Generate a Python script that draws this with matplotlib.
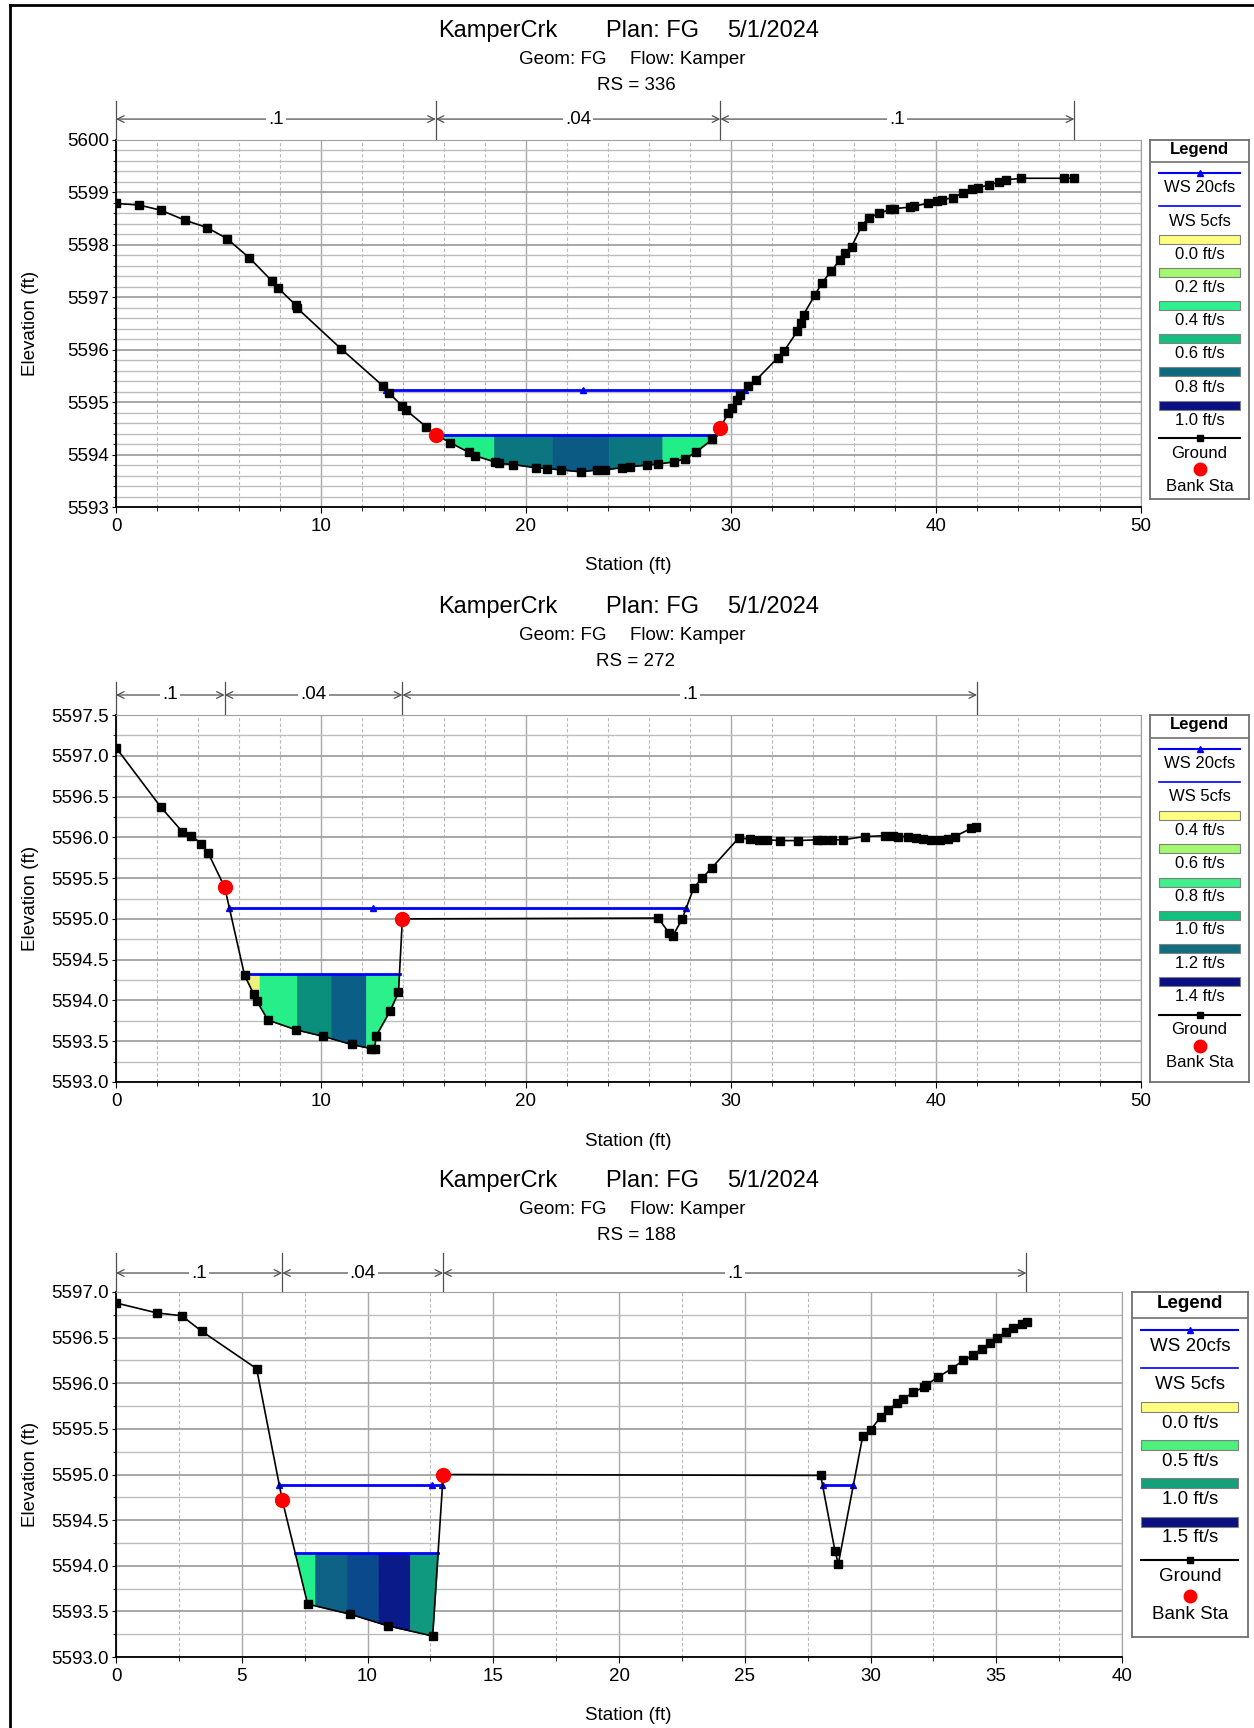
import numpy as np
import matplotlib
matplotlib.use('Agg')
import matplotlib.pyplot as plt
import matplotlib.transforms as mtransforms
from matplotlib.lines import Line2D
from matplotlib.patches import Rectangle
from matplotlib.ticker import MultipleLocator, FormatStrFormatter

plt.rcParams['font.family'] = ['Liberation Sans', 'DejaVu Sans']

W, H = 1254, 1728

# ---------------- RS = 336 ----------------
sta_336 = [0, 1.12, 2.2, 3.36, 4.44, 5.41, 6.51, 7.61, 7.9, 8.77, 8.82, 10.97, 13.02, 13.32,
           13.96, 14.14, 15.13, 15.6, 16.29, 17.22, 17.5, 18.47, 18.7, 19.37, 20.48, 21.04,
           21.7, 22.69, 23.47, 23.84, 24.68, 25.06, 25.9, 26.45, 27.2, 27.76, 28.3, 29.09,
           29.48, 29.86, 30.03, 30.31, 30.44, 30.84, 31.22, 32.27, 32.58, 33.23, 33.4, 33.54,
           34.1, 34.45, 34.89, 35.32, 35.58, 35.88, 36.37, 36.72, 37.24, 37.77, 37.94, 38.73,
           38.94, 39.6, 40.03, 40.3, 40.82, 41.31, 41.78, 42.04, 42.57, 43.06, 43.4, 44.17,
           46.23, 46.75]
elev_336 = [5598.79, 5598.76, 5598.66, 5598.47, 5598.33, 5598.12, 5597.75, 5597.31, 5597.18,
            5596.85, 5596.80, 5596.02, 5595.31, 5595.17, 5594.93, 5594.85, 5594.53, 5594.38,
            5594.23, 5594.04, 5593.98, 5593.86, 5593.83, 5593.81, 5593.75, 5593.73, 5593.71,
            5593.67, 5593.71, 5593.71, 5593.75, 5593.77, 5593.80, 5593.82, 5593.86, 5593.92,
            5594.05, 5594.29, 5594.51, 5594.79, 5594.88, 5595.05, 5595.14, 5595.30, 5595.42,
            5595.84, 5595.97, 5596.35, 5596.51, 5596.67, 5597.05, 5597.28, 5597.50, 5597.72,
            5597.85, 5597.96, 5598.36, 5598.52, 5598.60, 5598.68, 5598.69, 5598.72, 5598.74,
            5598.79, 5598.84, 5598.86, 5598.90, 5598.99, 5599.06, 5599.09, 5599.14, 5599.20,
            5599.24, 5599.27, 5599.27, 5599.27]
bank_336 = [15.6, 29.48]
ws20_336 = 5595.23
ws20_seg_336 = [(13.19, 30.66)]
ws20_mark_336 = [13.19, 22.8, 30.66]
ws5_336 = 5594.38
ws5_seg_336 = [(15.6, 29.25)]
cells_336 = [15.6, 18.43, 21.29, 24.03, 26.65, 29.25]
cellcol_336 = ['#22ee88', '#0b7580', '#0b5a84', '#0b7580', '#22ee88']
n_sta_336 = [0, 15.6, 29.48, 46.75]
n_val_336 = ['.1', '.04', '.1']
vel_lab_336 = ['0.0 ft/s', '0.2 ft/s', '0.4 ft/s', '0.6 ft/s', '0.8 ft/s', '1.0 ft/s']
vel_col_336 = ['#ffff80', '#a4f870', '#2ef08c', '#14c080', '#0e6b7e', '#0a1080']

# ---------------- RS = 272 ----------------
sta_272 = [0, 2.19, 3.23, 3.68, 4.17, 4.49, 5.30, 6.27, 6.71, 6.87, 7.41, 8.78, 10.11, 11.49,
           12.45, 12.62, 12.68, 13.37, 13.78, 13.97, 26.45, 26.97, 27.16, 27.62, 28.18, 28.59,
           29.08, 30.37, 30.94, 31.35, 31.75, 32.4, 33.29, 34.18, 34.51, 34.91, 35.48, 36.53,
           37.5, 37.91, 38.15, 38.64, 39.04, 39.37, 39.77, 40.18, 40.58, 40.91, 41.72, 41.96]
elev_272 = [5597.10, 5596.37, 5596.07, 5596.02, 5595.92, 5595.81, 5595.39, 5594.31, 5594.08,
            5593.99, 5593.76, 5593.64, 5593.56, 5593.46, 5593.41, 5593.40, 5593.56, 5593.87,
            5594.10, 5595.00, 5595.01, 5594.83, 5594.79, 5595.00, 5595.38, 5595.50, 5595.63,
            5595.99, 5595.98, 5595.97, 5595.97, 5595.96, 5595.96, 5595.97, 5595.97, 5595.97,
            5595.97, 5596.01, 5596.02, 5596.02, 5596.01, 5596.01, 5595.99, 5595.98, 5595.97,
            5595.97, 5595.98, 5596.01, 5596.11, 5596.13]
bank_272 = [5.30, 13.97]
ws20_272 = 5595.13
ws20_seg_272 = [(5.53, 27.81)]
ws20_mark_272 = [5.53, 12.55, 27.81]
ws5_272 = 5594.32
ws5_seg_272 = [(6.27, 13.83)]
cells_272 = [6.27, 7.0, 8.82, 10.49, 12.19, 13.83]
cellcol_272 = ['#eef27a', '#28ee8a', '#0b8f7d', '#0b5f86', '#2cf08a']
n_sta_272 = [0, 5.30, 13.97, 42.0]
n_val_272 = ['.1', '.04', '.1']
vel_lab_272 = ['0.4 ft/s', '0.6 ft/s', '0.8 ft/s', '1.0 ft/s', '1.2 ft/s', '1.4 ft/s']
vel_col_272 = ['#ffff80', '#a4f870', '#3ef08a', '#14c080', '#106e80', '#0a1080']

# ---------------- RS = 188 ----------------
sta_188 = [0, 1.64, 2.61, 3.41, 5.59, 6.61, 7.62, 9.30, 10.83, 12.59, 13.01, 28.02, 28.59,
           28.72, 29.69, 30.01, 30.40, 30.71, 31.04, 31.31, 31.70, 32.13, 32.21, 32.70, 33.23,
           33.69, 34.09, 34.42, 34.75, 35.02, 35.39, 35.68, 36.01, 36.21]
elev_188 = [5596.88, 5596.77, 5596.74, 5596.57, 5596.16, 5594.72, 5593.58, 5593.47, 5593.34,
            5593.23, 5595.00, 5594.99, 5594.16, 5594.02, 5595.42, 5595.49, 5595.63, 5595.71,
            5595.78, 5595.83, 5595.90, 5595.96, 5595.98, 5596.07, 5596.16, 5596.25, 5596.31,
            5596.38, 5596.44, 5596.50, 5596.56, 5596.61, 5596.65, 5596.67]
bank_188 = [6.61, 13.01]
ws20_188 = 5594.88
ws20_seg_188 = [(6.50, 12.98), (28.10, 29.32)]
ws20_mark_188 = [6.50, 12.55, 12.98, 28.10, 29.32]
ws5_188 = 5594.14
ws5_seg_188 = [(7.12, 12.81)]
cells_188 = [7.12, 7.91, 9.17, 10.43, 11.69, 12.81]
cellcol_188 = ['#22f08a', '#0d6286', '#0a4a8c', '#0a1a88', '#0f9a80']
n_sta_188 = [0, 6.61, 13.01, 36.2]
n_val_188 = ['.1', '.04', '.1']
vel_lab_188 = ['0.0 ft/s', '0.5 ft/s', '1.0 ft/s', '1.5 ft/s']
vel_col_188 = ['#ffff80', '#4cf07a', '#14a07a', '#0a1080']

fig = plt.figure(figsize=(W / 100, H / 100), dpi=100)
fig.patch.set_facecolor('white')


def px_axes(x0, y0, x1, y1):
    return fig.add_axes([x0 / W, 1 - y1 / H, (x1 - x0) / W, (y1 - y0) / H])


def ftext(x, y, s, **kw):
    fig.text(x / W, 1 - y / H, s, **kw)


def panel(rect, sta, elev, bank, ws20, ws20_seg, ws20_mark, ws5, ws5_seg, cells, cellcol,
          n_sta, n_val, xlim, ylim, xmaj, xmin, ymaj, ymin, yfmt, n_y, n_top, rs, ty):
    ax = px_axes(*rect)
    sta = np.asarray(sta, float)
    elev = np.asarray(elev, float)
    ax.set_xlim(*xlim)
    ax.set_ylim(*ylim)
    ax.xaxis.set_major_locator(MultipleLocator(xmaj))
    ax.xaxis.set_minor_locator(MultipleLocator(xmin))
    ax.yaxis.set_major_locator(MultipleLocator(ymaj))
    ax.yaxis.set_minor_locator(MultipleLocator(ymin))
    ax.xaxis.set_major_formatter(FormatStrFormatter('%d'))
    ax.yaxis.set_major_formatter(FormatStrFormatter(yfmt))
    ax.set_axisbelow(True)
    ax.xaxis.grid(True, which='major', color='#a8a8a8', lw=1.0)
    ax.xaxis.grid(True, which='minor', color='#b8b8b8', lw=0.8, ls=(0, (3, 2)))
    ax.yaxis.grid(True, which='major', color='#a0a0a0', lw=1.3)
    ax.yaxis.grid(True, which='minor', color='#bdbdbd', lw=1.0)
    ax.tick_params(axis='both', labelsize=13.5)
    ax.tick_params(axis='x', which='major', length=4, pad=4)
    ax.tick_params(axis='x', which='minor', length=3)
    ax.tick_params(axis='y', which='major', length=3, pad=2)
    ax.tick_params(axis='y', which='minor', length=2)
    for s in ['top', 'right']:
        ax.spines[s].set_color('#a0a0a0')
    for s in ['left', 'bottom']:
        ax.spines[s].set_color('black')
        ax.spines[s].set_linewidth(1.3)

    # velocity cells of the 5cfs water surface
    for a, b, c in zip(cells[:-1], cells[1:], cellcol):
        inner = sta[(sta > a) & (sta < b)]
        xs = np.concatenate([[a], inner, [b]])
        gs = np.interp(xs, sta, elev)
        ax.fill_between(xs, np.minimum(gs, ws5), ws5, facecolor=c, edgecolor=c, lw=0.4, zorder=2)

    for x0, x1 in ws5_seg:
        ax.plot([x0, x1], [ws5, ws5], color='#0000ff', lw=2, zorder=3)
    for x0, x1 in ws20_seg:
        ax.plot([x0, x1], [ws20, ws20], color='#0000ff', lw=2, zorder=3)
    ax.plot(ws20_mark, [ws20] * len(ws20_mark), '^', color='#0000ff', ms=5, zorder=3)

    ax.plot(sta, elev, color='black', lw=1.2, marker='s', ms=6, zorder=5)
    ax.plot(bank, np.interp(bank, sta, elev), 'o', color='#ff0000', ms=10, mec='#ff0000',
            zorder=6)

    # Manning's n annotation above the plot
    tr = mtransforms.blended_transform_factory(ax.transData, ax.transAxes)
    for s in n_sta:
        ax.plot([s, s], [1.0, n_top], color='#505050', lw=0.9, transform=tr, clip_on=False)
    for a, b, v in zip(n_sta[:-1], n_sta[1:], n_val):
        ax.annotate('', xy=(b, n_y), xytext=(a, n_y), xycoords=tr, textcoords=tr,
                    arrowprops=dict(arrowstyle='<->', color='#505050', lw=0.9,
                                    shrinkA=0, shrinkB=0, mutation_scale=12),
                    annotation_clip=False)
        ax.text((a + b) / 2, n_y, v, transform=tr, ha='center', va='center', fontsize=13.5,
                bbox=dict(fc='white', ec='none', pad=1.5), clip_on=False)

    # titles and axis labels
    ftext(438, ty, 'KamperCrk', fontsize=17, ha='left', va='center')
    ftext(606, ty, 'Plan: FG', fontsize=17, ha='left', va='center')
    ftext(727, ty, '5/1/2024', fontsize=17, ha='left', va='center')
    ftext(519, ty + 28, 'Geom: FG', fontsize=13.5, ha='left', va='center')
    ftext(630, ty + 28, 'Flow: Kamper', fontsize=13.5, ha='left', va='center')
    ftext(636, ty + 55, 'RS = ' + rs, fontsize=13.5, ha='center', va='center')
    ftext(31, (rect[1] + rect[3]) / 2, 'Elevation (ft)', fontsize=13.5, rotation=90,
          ha='center', va='center')
    ftext(628, rect[3] + 59, 'Station (ft)', fontsize=13.5, ha='center', va='center')
    return ax


def legend(rect, labels, colors, head_y, sep_y, first, step, toff, fs, bx, ph):
    lg = px_axes(*rect)
    w = rect[2] - rect[0]
    h = rect[3] - rect[1]
    lg.set_xlim(0, w)
    lg.set_ylim(h, 0)
    lg.set_xticks([])
    lg.set_yticks([])
    for s in lg.spines.values():
        s.set_color('#707070')
        s.set_linewidth(1.3)
    cx = w / 2
    lg.text(cx, head_y, 'Legend', ha='center', va='center', fontsize=fs, fontweight='bold')
    lg.plot([0, w], [sep_y, sep_y], color='#707070', lw=1.2)
    y = first
    lg.plot([bx[0], bx[1]], [y, y], color='#0000ff', lw=1.5)
    lg.plot([cx], [y], '^', color='#0000ff', ms=5)
    lg.text(cx, y + toff, 'WS 20cfs', ha='center', va='center', fontsize=fs)
    y += step
    lg.plot([bx[0], bx[1]], [y, y], color='#0000ff', lw=1.2)
    lg.text(cx, y + toff, 'WS 5cfs', ha='center', va='center', fontsize=fs)
    y += step
    for lab, col in zip(labels, colors):
        lg.add_patch(Rectangle((bx[0], y - ph / 2), bx[1] - bx[0], ph, fc=col, ec='#808080',
                               lw=0.8))
        lg.text(cx, y + toff, lab, ha='center', va='center', fontsize=fs)
        y += step
    lg.plot([bx[0], bx[1]], [y, y], color='black', lw=1.5)
    lg.plot([cx], [y], 's', color='black', ms=5)
    lg.text(cx, y + toff, 'Ground', ha='center', va='center', fontsize=fs)
    y += step
    lg.plot([cx], [y - 2], 'o', color='#ff0000', ms=9)
    lg.text(cx, y + toff, 'Bank Sta', ha='center', va='center', fontsize=fs)


panel((116, 140, 1141, 507), sta_336, elev_336, bank_336, ws20_336, ws20_seg_336,
      ws20_mark_336, ws5_336, ws5_seg_336, cells_336, cellcol_336, n_sta_336, n_val_336,
      (0, 50), (5593, 5600), 10, 2, 1, 0.2, '%d', 1.057, 1.106, '336', 31)
legend((1150, 140, 1249, 499), vel_lab_336, vel_col_336, 9.5, 22, 32.7, 33.2, 15.3, 12,
       (9, 90), 9)

panel((116, 715, 1141, 1082), sta_272, elev_272, bank_272, ws20_272, ws20_seg_272,
      ws20_mark_272, ws5_272, ws5_seg_272, cells_272, cellcol_272, n_sta_272, n_val_272,
      (0, 50), (5593, 5597.5), 10, 2, 0.5, 0.25, '%.1f', 1.0545, 1.09, '272', 607)
legend((1150, 715, 1249, 1082), vel_lab_272, vel_col_272, 10, 23, 34, 33.25, 14.7, 12,
       (9, 90), 9)

panel((116, 1292, 1122, 1657), sta_188, elev_188, bank_188, ws20_188, ws20_seg_188,
      ws20_mark_188, ws5_188, ws5_seg_188, cells_188, cellcol_188, n_sta_188, n_val_188,
      (0, 40), (5593, 5597), 5, 2.5, 0.5, 0.25, '%.1f', 1.052, 1.107, '188', 1181)
legend((1132, 1292, 1248, 1637), vel_lab_188, vel_col_188, 11, 26, 38, 38.3, 16.5, 13.5,
       (9, 106), 10)

# page frame on the left and top edges
fig.add_artist(Line2D([10 / W, 10 / W], [0, 1 - 5 / H], color='black', lw=2,
                      transform=fig.transFigure))
fig.add_artist(Line2D([10 / W, 1], [1 - 5 / H, 1 - 5 / H], color='black', lw=2,
                      transform=fig.transFigure))

fig.savefig('out.png', dpi=100)
